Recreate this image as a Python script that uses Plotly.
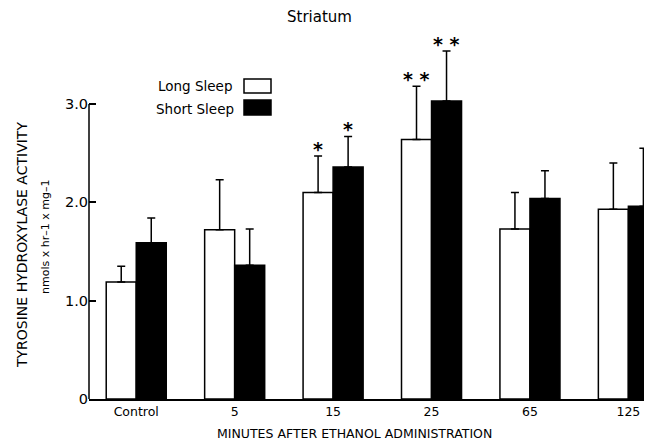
import plotly.graph_objects as go

categories = ["Control", "5", "15", "25", "65", "125"]
long_sleep = [1.19, 1.72, 2.10, 2.64, 1.73, 1.93]
long_err = [0.16, 0.51, 0.37, 0.54, 0.37, 0.47]
short_sleep = [1.59, 1.36, 2.36, 3.03, 2.04, 1.96]
short_err = [0.25, 0.37, 0.31, 0.51, 0.28, 0.59]
long_marks = ["", "", "*", "**", "", ""]
short_marks = ["", "", "*", "**", "", ""]
y_ticks = [0, 1.0, 2.0, 3.0]
y_ticktext = ["0", "1.0", "2.0", "3.0"]

FONT = "DejaVu Sans, Liberation Sans, Arial, sans-serif"
OFF = 8  # default page body margin
W, H = 652 - OFF, 443 - OFF
ML, MR, MT, MB = 89 - OFF, 0, 30 - OFF, 44
PW, PH = W - ML - MR, H - MT - MB
BW = 0.305
UNIT_PX = PW / 5.72

def px(x):
    return (x - 89) / PW

def py(y):
    return (399 - y) / PH

fig = go.Figure()
fig.add_trace(go.Bar(
    x=categories, y=long_sleep, name="Long Sleep",
    width=BW, offset=-BW,
    marker=dict(color="white", line=dict(color="black", width=1.5)),
    error_y=dict(type="data", symmetric=False, array=long_err,
                 arrayminus=[0] * len(long_err), color="black",
                 thickness=1.5, width=4),
))
fig.add_trace(go.Bar(
    x=categories, y=short_sleep, name="Short Sleep",
    width=BW, offset=0,
    marker=dict(color="black", line=dict(color="black", width=1.5)),
    error_y=dict(type="data", symmetric=False, array=short_err,
                 arrayminus=[0] * len(short_err), color="black",
                 thickness=1.5, width=4),
))

annotations = []
for series, errs, marks, sign in ((long_sleep, long_err, long_marks, -1),
                                  (short_sleep, short_err, short_marks, 1)):
    for i, (v, e, m) in enumerate(zip(series, errs, marks)):
        if m:
            annotations.append(dict(
                x=i, y=v + e, xref="x", yref="y", text="<b>" + " ".join(m) + "</b>",
                showarrow=False, yanchor="bottom",
                xshift=sign * BW * UNIT_PX / 2, yshift=-6,
                font=dict(size=19, color="black", family=FONT)))

annotations += [
    dict(x=px(319), y=py(17), xref="paper", yref="paper", text="Striatum",
         showarrow=False, font=dict(size=15, family=FONT, color="black"),
         xanchor="center", yanchor="middle"),
    dict(x=px(354), y=py(433), xref="paper", yref="paper",
         text="MINUTES AFTER ETHANOL ADMINISTRATION",
         showarrow=False, font=dict(size=12.5, family=FONT, color="black"),
         xanchor="center", yanchor="middle"),
    dict(x=px(22), y=py(245), xref="paper", yref="paper",
         text="TYROSINE HYDROXYLASE ACTIVITY", textangle=-90,
         showarrow=False, font=dict(size=14, family=FONT, color="black"),
         xanchor="center", yanchor="middle"),
    dict(x=px(45), y=py(237), xref="paper", yref="paper",
         text="nmols x hr–1 x mg–1", textangle=-90,
         showarrow=False, font=dict(size=11, family=FONT, color="black"),
         xanchor="center", yanchor="middle"),
    dict(x=px(234), y=py(86), xref="paper", yref="paper", text="Long Sleep",
         showarrow=False, font=dict(size=13.5, family=FONT, color="black"),
         xanchor="right", yanchor="middle"),
    dict(x=px(236), y=py(109), xref="paper", yref="paper", text="Short Sleep",
         showarrow=False, font=dict(size=13.5, family=FONT, color="black"),
         xanchor="right", yanchor="middle"),
]

shapes = [
    dict(type="rect", xref="paper", yref="paper", x0=px(244), x1=px(271),
         y0=py(93), y1=py(79), line=dict(color="black", width=1.5), fillcolor="white"),
    dict(type="rect", xref="paper", yref="paper", x0=px(244), x1=px(271),
         y0=py(115), y1=py(100), line=dict(color="black", width=1.5), fillcolor="black"),
    dict(type="line", xref="paper", yref="y", x0=0, x1=0, y0=0, y1=y_ticks[-1],
         line=dict(color="black", width=1.5)),
]

fig.update_layout(
    width=W, height=H,
    margin=dict(l=ML, r=MR, t=MT, b=MB),
    paper_bgcolor="white", plot_bgcolor="white",
    showlegend=False,
    font=dict(family=FONT, color="black", size=13),
    annotations=annotations, shapes=shapes,
    xaxis=dict(type="category", range=[-0.48, 5.24], showline=True,
               linecolor="black", linewidth=1.5, ticks="", showgrid=False,
               tickfont=dict(size=12.5, family=FONT, color="black")),
    yaxis=dict(range=[0, PH / 98.33], tickvals=y_ticks, ticktext=y_ticktext,
               ticks="inside", ticklen=7, tickwidth=1.5, tickcolor="black",
               showline=False, showgrid=False, zeroline=False,
               tickfont=dict(size=14.5, family=FONT, color="black")),
)

fig.write_html("out.html")
